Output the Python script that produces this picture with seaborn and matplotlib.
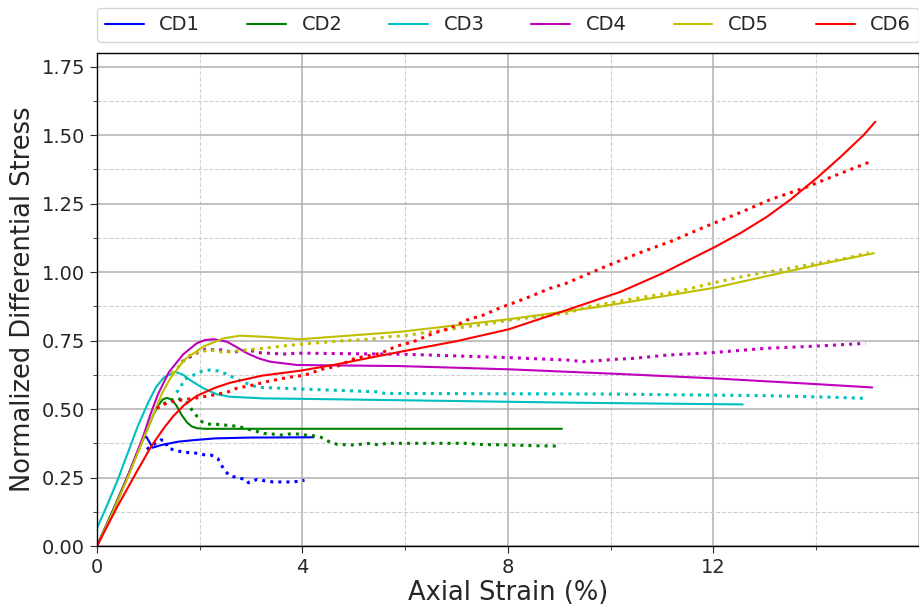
import numpy as np
import pandas as pd
import matplotlib
matplotlib.use("Agg")
import matplotlib.pyplot as plt
from matplotlib.ticker import MultipleLocator, FixedLocator
import seaborn as sns

# --- Data (strain in %, normalized stress) ---
labels = ["CD1", "CD2", "CD3", "CD4", "CD5", "CD6"]
colors = ["b", "g", "c", "m", "y", "r"]

# model curves (solid)
cd1_x = [0, 0.3, 0.61, 0.8, 0.9, 0.96, 1.02, 1.08, 1.26, 1.58, 1.91, 2.3, 3.0, 4.21]
cd1_y = [0, 0.125, 0.26, 0.35, 0.395, 0.399, 0.38, 0.359, 0.369, 0.381, 0.387, 0.393, 0.396, 0.397]
cd2_x = [0, 0.3, 0.61, 0.9, 1.1, 1.2, 1.28, 1.36, 1.45, 1.55, 1.65, 1.75, 1.84, 1.95, 2.1, 2.49, 5.0, 9.05]
cd2_y = [0, 0.125, 0.26, 0.39, 0.48, 0.515, 0.535, 0.541, 0.535, 0.512, 0.478, 0.452, 0.437, 0.43, 0.428,
         0.428, 0.428, 0.428]
cd3_x = [0, 0.2, 0.4, 0.61, 0.8, 1.0, 1.15, 1.3, 1.52, 1.68, 1.81, 2.07, 2.33, 2.59, 3.24, 4.15, 6.0, 9.41,
         12.57]
cd3_y = [0.065, 0.15, 0.24, 0.345, 0.44, 0.525, 0.58, 0.615, 0.636, 0.625, 0.606, 0.576, 0.554, 0.545, 0.539,
         0.537, 0.532, 0.523, 0.517]
cd4_x = [0, 0.3, 0.61, 0.9, 1.03, 1.19, 1.4, 1.68, 1.94, 2.1, 2.27, 2.53, 2.72, 2.92, 3.15, 3.37, 3.89, 5.9,
         8.04, 10.19, 12.02, 14.01, 15.09]
cd4_y = [0, 0.12, 0.26, 0.4, 0.475, 0.555, 0.635, 0.70, 0.740, 0.752, 0.755, 0.746, 0.726, 0.704, 0.685,
         0.673, 0.661, 0.657, 0.645, 0.628, 0.612, 0.591, 0.579]
cd5_x = [0, 0.3, 0.61, 0.9, 1.1, 1.26, 1.42, 1.7, 2.07, 2.46, 2.78, 3.24, 3.95, 5.9, 8.01, 9.8, 12.02, 14.01,
         15.12]
cd5_y = [0, 0.12, 0.255, 0.39, 0.48, 0.555, 0.61, 0.68, 0.728, 0.758, 0.768, 0.764, 0.755, 0.782, 0.828,
         0.874, 0.943, 1.026, 1.069]
cd6_x = [0, 0.4, 0.77, 1.06, 1.3, 1.49, 1.7, 1.94, 2.3, 2.59, 3.21, 3.95, 4.6, 5.9, 7.0, 8.01, 9.15, 10.19,
         11.0, 11.55, 12.02, 12.52, 13.04, 13.5, 14.02, 14.47, 14.92, 15.15]
cd6_y = [0, 0.145, 0.27, 0.365, 0.43, 0.475, 0.515, 0.548, 0.578, 0.596, 0.622, 0.640, 0.661, 0.709, 0.748,
         0.791, 0.862, 0.928, 0.995, 1.047, 1.091, 1.142, 1.202, 1.265, 1.345, 1.42, 1.50, 1.549]

# experimental curves (dotted)
ex1_x = [0.97, 1.23, 1.32, 1.38, 1.53, 1.70, 1.86, 2.01, 2.10, 2.22, 2.35, 2.40, 2.49, 2.58, 2.74, 2.90, 2.95,
         3.11, 3.27, 3.43, 3.59, 3.76, 3.92, 4.04]
ex1_y = [0.353, 0.387, 0.387, 0.357, 0.350, 0.341, 0.342, 0.335, 0.333, 0.332, 0.320, 0.302, 0.275, 0.257,
         0.249, 0.243, 0.231, 0.243, 0.238, 0.234, 0.234, 0.234, 0.236, 0.240]
ex2_x = [1.16, 1.40, 1.58, 1.77, 1.84, 1.94, 2.04, 2.16, 2.30, 2.45, 2.60, 2.77, 2.93, 3.08, 3.25, 3.41, 3.58,
         3.74, 3.90, 4.06, 4.20, 4.36, 4.52, 4.68, 4.99, 5.32, 5.48, 5.64, 7.23, 7.39, 8.04, 8.53, 8.93]
ex2_y = [0.503, 0.531, 0.539, 0.521, 0.499, 0.475, 0.454, 0.445, 0.445, 0.442, 0.440, 0.436, 0.427, 0.420,
         0.411, 0.409, 0.405, 0.409, 0.409, 0.405, 0.403, 0.397, 0.381, 0.371, 0.369, 0.375, 0.369, 0.375,
         0.375, 0.371, 0.369, 0.366, 0.365]
ex3_x = [1.55, 1.63, 1.71, 1.88, 2.05, 2.21, 2.36, 2.52, 2.69, 2.82, 3.06, 3.21, 4.01, 5.45, 5.61, 5.77,
         9.80, 13.04, 14.33, 14.99]
ex3_y = [0.560, 0.582, 0.610, 0.624, 0.639, 0.643, 0.639, 0.628, 0.612, 0.600, 0.584, 0.579, 0.573, 0.563,
         0.557, 0.557, 0.555, 0.549, 0.543, 0.539]
ex4_x = [1.65, 1.97, 2.12, 2.28, 2.43, 2.65, 2.81, 3.0, 3.14, 3.32, 3.63, 3.92, 4.07, 6.0, 8.01, 9.15, 9.47,
         10.12, 10.44, 11.09, 11.97, 13.04, 14.01, 14.96]
ex4_y = [0.673, 0.707, 0.719, 0.716, 0.716, 0.707, 0.713, 0.713, 0.706, 0.704, 0.701, 0.704, 0.704, 0.700,
         0.688, 0.679, 0.673, 0.682, 0.685, 0.697, 0.706, 0.722, 0.730, 0.740]
ex5_x = [1.45, 1.62, 1.71, 1.84, 2.01, 2.20, 2.40, 2.56, 2.92, 3.27, 3.60, 3.97, 4.68, 5.02, 5.34, 5.67, 5.99,
         6.38, 6.87, 7.20, 7.62, 8.01, 8.50, 9.15, 9.57, 10.06, 10.67, 11.29, 12.00, 12.62, 13.30, 13.95, 14.57, 15.02]
ex5_y = [0.630, 0.661, 0.679, 0.703, 0.709, 0.716, 0.709, 0.709, 0.716, 0.722, 0.730, 0.737, 0.748, 0.752,
         0.755, 0.764, 0.768, 0.779, 0.791, 0.801, 0.811, 0.825, 0.835, 0.850, 0.874, 0.890, 0.910, 0.928,
         0.961, 0.986, 1.008, 1.030, 1.050, 1.071]
ex6_x = [1.16, 1.42, 1.88, 2.20, 2.54, 2.72, 3.04, 3.30, 3.73, 4.05, 4.37, 4.70, 5.02, 5.51, 5.84, 6.16,
         6.55, 6.87, 7.20, 7.52, 7.85, 8.17, 8.50, 8.82, 9.13, 9.93, 10.57, 11.21, 11.84, 12.49, 13.12,
         13.75, 14.40, 15.05]
ex6_y = [0.503, 0.527, 0.539, 0.549, 0.562, 0.576, 0.588, 0.600, 0.616, 0.624, 0.645, 0.658, 0.685, 0.703,
         0.730, 0.746, 0.777, 0.795, 0.825, 0.843, 0.870, 0.892, 0.916, 0.941, 0.959, 1.023, 1.071, 1.115,
         1.166, 1.215, 1.266, 1.306, 1.355, 1.403]

model = [(cd1_x, cd1_y), (cd2_x, cd2_y), (cd3_x, cd3_y), (cd4_x, cd4_y), (cd5_x, cd5_y), (cd6_x, cd6_y)]
exper = [(ex1_x, ex1_y), (ex2_x, ex2_y), (ex3_x, ex3_y), (ex4_x, ex4_y), (ex5_x, ex5_y), (ex6_x, ex6_y)]

# --- Plot ---
sns.set_style("ticks")
plt.rcParams["font.family"] = ["DejaVu Sans"]

fig = plt.figure(figsize=(9.2, 6.12), dpi=100)
ax = fig.add_axes([0.1054, 0.1078, 0.8935, 0.8056])

for (mx, my), (ex, ey), lab, col in zip(model, exper, labels, colors):
    sns.lineplot(x=mx, y=my, ax=ax, color=col, lw=1.5, sort=False, label=lab, estimator=None)
    sns.lineplot(x=ex, y=ey, ax=ax, color=col, lw=2.2, sort=False, estimator=None, linestyle=":")

ax.set_xlim(0, 16)
ax.set_ylim(0, 1.8)
ax.xaxis.set_major_locator(FixedLocator([0, 4, 8, 12]))
ax.xaxis.set_minor_locator(FixedLocator([2, 6, 10, 14]))
ax.yaxis.set_major_locator(FixedLocator(np.arange(0, 1.76, 0.25)))
ax.yaxis.set_minor_locator(MultipleLocator(0.125))
ax.grid(which="major", color="#b0b0b0", lw=1.1, ls="-")
ax.grid(which="minor", color="#d0d0d0", lw=0.8, ls="--")
ax.tick_params(which="major", labelsize=14, length=5, direction="out")
ax.tick_params(which="minor", length=3)
for s in ax.spines.values():
    s.set_color("black")
    s.set_linewidth(1.0)

ax.set_xlabel("Axial Strain (%)", fontsize=18.5, labelpad=2)
ax.set_ylabel("Normalized Differential Stress", fontsize=18.5)

ax.legend(loc="lower left", bbox_to_anchor=(0, 1.022, 1, 0.1), mode="expand", ncol=6,
          fontsize=14, frameon=True, borderaxespad=0.0, handlelength=2.0)

fig.savefig("out.png", dpi=100)
